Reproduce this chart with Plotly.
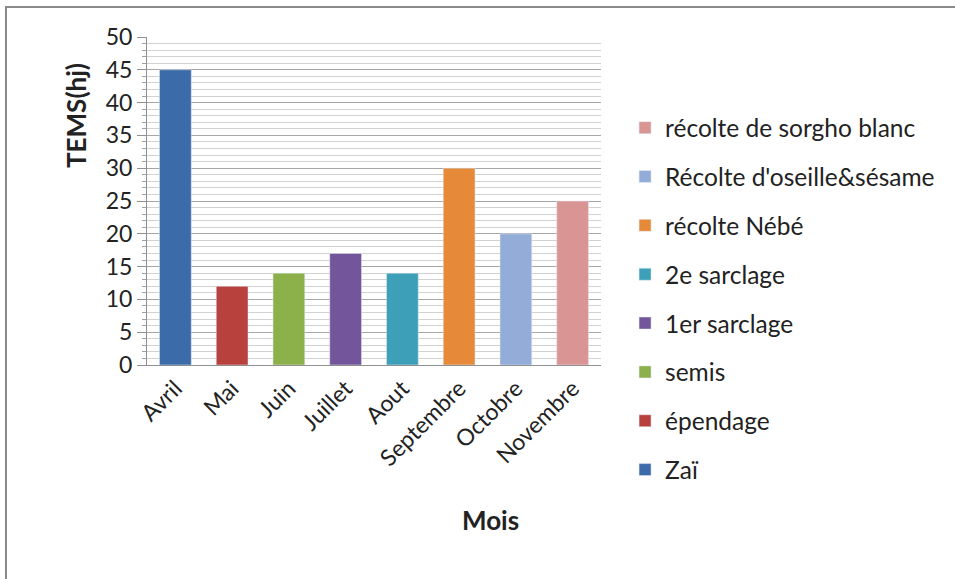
import plotly.graph_objects as go

# Months and the field operation done in each month
mois = ["Avril", "Mai", "Juin", "Juillet", "Aout", "Septembre", "Octobre", "Novembre"]
operations = ["Zaï", "épendage", "semis", "1er sarclage", "2e sarclage",
              "récolte Nébé", "Récolte d'oseille&sésame", "récolte de sorgho blanc"]
temps_hj = [45, 12, 14, 17, 14, 30, 20, 25]
couleurs = ["#3C6BAA", "#B8403D", "#8CB04A", "#72559B", "#3DA0B8",
            "#E68A3A", "#94ADD8", "#D99494"]

FONT = "Lato, Carlito, Calibri, sans-serif"

fig = go.Figure()
# added last-to-first so the legend lists the latest operation on top
for m, op, v, c in reversed(list(zip(mois, operations, temps_hj, couleurs))):
    fig.add_trace(go.Bar(
        x=[m], y=[v], name=op, marker_color=c, width=0.56,
        legendgroup=op,
    ))

fig.update_layout(
    width=955, height=579,
    margin=dict(l=147, r=354, t=37, b=214),
    paper_bgcolor="white", plot_bgcolor="white",
    barmode="overlay",
    showlegend=True,
    font=dict(family=FONT, size=23, color="#222"),
    legend=dict(
        x=1.053, y=0.792, xanchor="left", yanchor="top",
        traceorder="grouped", tracegroupgap=14, maxheight=470,
        font=dict(family=FONT, size=24.5, color="#222"),
        bgcolor="rgba(0,0,0,0)",
    ),
    xaxis=dict(
        categoryorder="array", categoryarray=mois,
        tickangle=-45, showgrid=False,
        showline=True, linecolor="#909090", linewidth=1,
        ticks="", tickfont=dict(family=FONT, size=23, color="#222"),
        range=[-0.5, 7.5],
    ),
    yaxis=dict(
        range=[0, 50], dtick=5, tick0=0,
        showgrid=True, gridcolor="#A6A6A6", gridwidth=1,
        showline=True, linecolor="#909090", linewidth=1,
        ticks="outside", ticklen=9, tickcolor="#909090",
        tickfont=dict(family=FONT, size=23, color="#222"),
        zeroline=False,
        minor=dict(dtick=1, showgrid=True, gridcolor="#D2D2D2", gridwidth=1,
                   ticks="outside", ticklen=4, tickcolor="#A0A0A0"),
    ),
    shapes=[dict(
        type="rect", xref="paper", yref="paper",
        x0=-0.3106, x1=2.0, y0=-1.0, y1=1.0915,
        line=dict(color="#8A8A8A", width=2), layer="below",
    )],
    annotations=[
        dict(text="<b>Mois</b>", xref="paper", yref="paper",
             x=(490 - 147) / 454, y=-(520 - 365) / 328,
             xanchor="center", yanchor="middle", showarrow=False,
             font=dict(family=FONT, size=26, color="#222")),
        dict(text="<b>TEMS(hj)</b>", xref="paper", yref="paper",
             x=-(147 - 76) / 454, y=1 - (116 - 37) / 328,
             xanchor="center", yanchor="middle", showarrow=False, textangle=-90,
             font=dict(family=FONT, size=26, color="#222")),
    ],
)

fig.write_html("out.html")
